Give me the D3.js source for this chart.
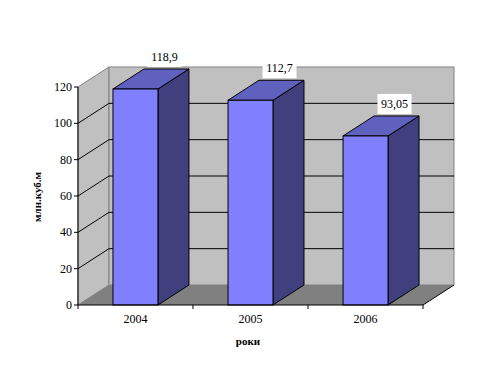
<!DOCTYPE html>
<html>
<head>
<meta charset="utf-8">
<script src="https://cdn.jsdelivr.net/npm/d3@7"></script>
<style>
  body { margin: 0; background: #fff; }
</style>
</head>
<body>
<div class="chart"></div>
<script>
const years = ["2004", "2005", "2006"];
const values = [118.9, 112.7, 93.05];
const valueLabels = ["118,9", "112,7", "93,05"];
const yTicks = [0, 20, 40, 60, 80, 100, 120];

const W = 481, H = 365;
const DX = 31, DY = -20; // depth offset
const FONT = "'Liberation Serif', 'Times New Roman', 'DejaVu Serif', serif";

var x = d3.scaleBand().domain(years).range([78, 423])
        .paddingInner(0.609).paddingOuter(0.304);
var y = d3.scaleLinear().domain([0, 120]).range([305, 87]);

var svg = d3.select(".chart").append("svg")
        .attr("width", W).attr("height", H)
        .style("font-family", FONT);

const x0 = x.range()[0], x1 = x.range()[1];
const pts = (arr) => arr.map(p => p.join(",")).join(" ");

// left wall
svg.append("polygon")
        .attr("points", pts([[x0, y(0)], [x0, y(120)], [x0 + DX, y(120) + DY], [x0 + DX, y(0) + DY]]))
        .attr("fill", "#c0c0c0").attr("stroke", "#808080");
// back wall
svg.append("rect")
        .attr("x", x0 + DX).attr("y", y(120) + DY)
        .attr("width", x1 - x0).attr("height", y(0) - y(120))
        .attr("fill", "#c0c0c0").attr("stroke", "#808080");

// gridlines
var grid = yTicks.filter(d => d > 0 && d < 120);
svg.selectAll(".gl").data(grid).enter().append("polyline")
        .attr("points", d => pts([[x0, y(d)], [x0 + DX, y(d) + DY], [x1 + DX, y(d) + DY]]))
        .attr("fill", "none").attr("stroke", "#000");

// floor
svg.append("polygon")
        .attr("points", pts([[x0, y(0)], [x1, y(0)], [x1 + DX, y(0) + DY], [x0 + DX, y(0) + DY]]))
        .attr("fill", "#808080");
svg.append("line")
        .attr("x1", x1).attr("y1", y(0)).attr("x2", x1 + DX).attr("y2", y(0) + DY)
        .attr("stroke", "#000");

// bars
var bars = svg.selectAll(".bar").data(years).enter().append("g");
bars.each(function (d, i) {
    var g = d3.select(this);
    var bx = x(d), bw = x.bandwidth(), by = y(values[i]), b0 = y(0);
    g.append("polygon")
            .attr("points", pts([[bx + bw, b0], [bx + bw, by], [bx + bw + DX, by + DY], [bx + bw + DX, b0 + DY]]))
            .attr("fill", "#40407f").attr("stroke", "#000");
    g.append("polygon")
            .attr("points", pts([[bx, by], [bx + DX, by + DY], [bx + bw + DX, by + DY], [bx + bw, by]]))
            .attr("fill", "#6060bf").attr("stroke", "#000");
    g.append("rect")
            .attr("x", bx).attr("y", by).attr("width", bw).attr("height", b0 - by)
            .attr("fill", "#8080ff").attr("stroke", "#000");
});

// axes
svg.append("line").attr("x1", x0).attr("y1", y(0)).attr("x2", x0).attr("y2", y(120)).attr("stroke", "#000");
svg.append("line").attr("x1", x0).attr("y1", y(0)).attr("x2", x1).attr("y2", y(0)).attr("stroke", "#000");

svg.selectAll(".yt").data(yTicks).enter().append("line")
        .attr("x1", x0 - 4).attr("x2", x0).attr("y1", d => y(d)).attr("y2", d => y(d))
        .attr("stroke", "#000");
svg.selectAll(".yl").data(yTicks).enter().append("text")
        .attr("x", x0 - 6).attr("y", d => y(d) + 4)
        .attr("text-anchor", "end").attr("font-size", 12)
        .text(d => d);

var xt = [x0].concat(years.map(d => x(d) - x.step() * x.paddingInner() / 2 + x.step()));
svg.selectAll(".xt").data(xt).enter().append("line")
        .attr("x1", d => d).attr("x2", d => d).attr("y1", y(0)).attr("y2", y(0) + 4)
        .attr("stroke", "#000");
svg.selectAll(".xl").data(years).enter().append("text")
        .attr("x", d => x(d) + x.bandwidth() / 2).attr("y", y(0) + 18)
        .attr("text-anchor", "middle").attr("font-size", 12)
        .text(d => d);

// value labels
var lab = svg.selectAll(".vl").data(years).enter().append("g")
        .attr("transform", (d, i) => "translate(" + (x(d) + x.bandwidth() / 2 + DX - 2) + "," + (y(values[i]) + DY - 12) + ")");
lab.append("rect").attr("x", -17).attr("y", -10).attr("width", 34).attr("height", 20).attr("fill", "#fff");
lab.append("text").attr("text-anchor", "middle").attr("y", 4).attr("font-size", 12)
        .text((d, i) => valueLabels[i]);

// axis titles
svg.append("text").attr("x", 248).attr("y", 345)
        .attr("text-anchor", "middle").attr("font-size", 11).attr("font-weight", "bold")
        .text("роки");
svg.append("text").attr("transform", "translate(41,197) rotate(-90)")
        .attr("text-anchor", "middle").attr("font-size", 11).attr("font-weight", "bold")
        .text("млн.куб.м");
</script>
</body>
</html>
